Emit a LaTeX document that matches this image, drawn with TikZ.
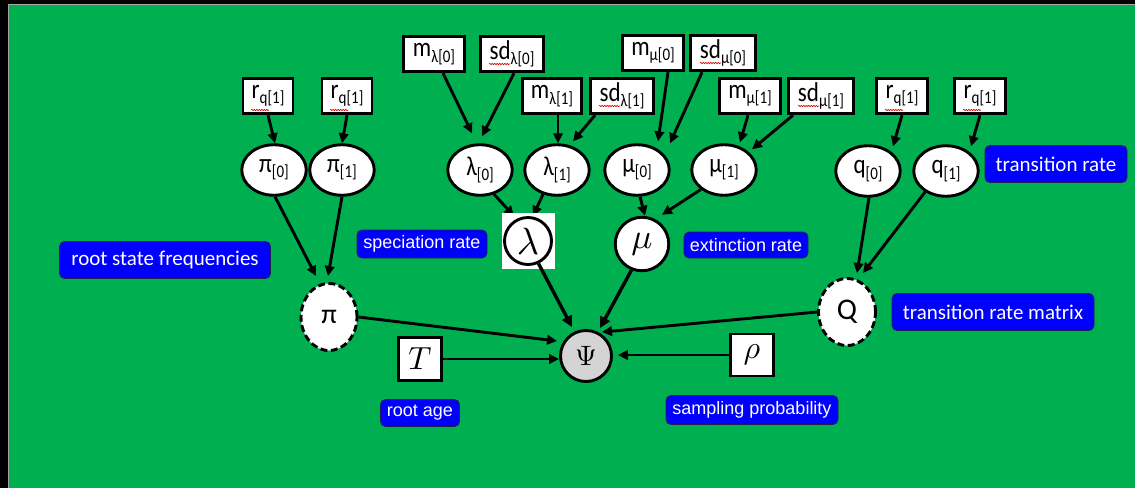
\documentclass[tikz,border=0pt]{standalone}
\usepackage{graphicx}
\usepackage{fontspec}
\usetikzlibrary{shapes.geometric,arrows.meta,decorations.pathmorphing,calc}
\newfontfamily\calf{Carlito}
\newfontfamily\arif{Liberation Sans}
\definecolor{bggreen}{RGB}{0,176,80}
\definecolor{lblblue}{RGB}{0,0,255}
\definecolor{lbledge}{RGB}{30,30,80}
\definecolor{psigray}{RGB}{212,212,212}
\newcommand{\bt}[2]{\scalebox{1}[1.18]{\calf\fontsize{23}{23}\selectfont #1\raisebox{-4.5pt}{\fontsize{15}{15}\selectfont #2}}}
\newcommand{\mth}[2]{\scalebox{#1}{$#2$}}
\pgfdeclarelayer{front}
\pgfsetlayers{main,front}
\tikzset{
 boxn/.style={rectangle, draw=black, line width=2.9pt, fill=white, inner sep=0pt, minimum height=35.5pt},
 elln/.style={ellipse, draw=black, line width=2.9pt, fill=white, inner sep=0pt, minimum width=64.5pt, minimum height=50.5pt},
 delln/.style={ellipse, draw=black, line width=2.9pt, fill=white, inner sep=0pt, dash pattern=on 7pt off 3.5pt},
 lbln/.style={rectangle, rounded corners=5pt, fill=lblblue, draw=lbledge, line width=0.8pt, text=white, inner sep=0pt},
 calfl/.style={font=\calf\fontsize{21}{21}\selectfont},
 arifl/.style={font=\arif\fontsize{18}{18}\selectfont},
 arr/.style={-{Triangle[length=10pt,width=9.5pt]}, line width=2.9pt},
 arrb/.style={-{Triangle[length=11pt,width=10.5pt]}, line width=3.4pt},
 wavy/.style={draw=red!85!black, line width=0.6pt, decorate, decoration={snake, amplitude=0.7pt, segment length=2.5pt}},
}
\begin{document}
\begin{tikzpicture}[x=1pt,y=-1pt]
\useasboundingbox (0,0) rectangle (1135,488);
\fill[black] (0,0) rectangle (1135,488);
\fill[bggreen] (8,5) rectangle (1135,488);
\draw[gray!70, line width=1pt] (8.5,488) -- (8.5,4.5) -- (1135,4.5);

% ---- top boxes
\node[boxn, minimum width=50pt] (rqa) at (268,96) {\bt{r}{q[1]}};
\node[boxn, minimum width=50pt] (rqb) at (347,96) {\bt{r}{q[1]}};
\node[boxn, minimum width=60.5pt] (mla) at (434,54) {\bt{m}{λ[0]}};
\node[boxn, minimum width=62.5pt] (sdla) at (512,54) {\bt{sd}{λ[0]}};
\node[boxn, minimum width=59.5pt] (mlb) at (552,96) {\bt{m}{λ[1]}};
\node[boxn, minimum width=62.5pt] (sdlb) at (622,96) {\bt{sd}{λ[1]}};
\node[boxn, minimum width=60.5pt] (mma) at (653,53) {\bt{m}{μ[0]}};
\node[boxn, minimum width=65.5pt] (sdma) at (723,53) {\bt{sd}{μ[0]}};
\node[boxn, minimum width=61.5pt] (mmb) at (750,96) {\bt{m}{μ[1]}};
\node[boxn, minimum width=65.5pt] (sdmb) at (821,96) {\bt{sd}{μ[1]}};
\node[boxn, minimum width=50.5pt] (rqc) at (902,96) {\bt{r}{q[1]}};
\node[boxn, minimum width=50.5pt] (rqd) at (980,96) {\bt{r}{q[1]}};

% ---- red spell-check underlines
\foreach \n in {sdla,sdlb,sdma,sdmb}
  \draw[wavy] ([xshift=-23pt,yshift=-10pt]\n.center) -- ([xshift=-2pt,yshift=-10pt]\n.center);
\foreach \n in {rqa,rqb,rqc,rqd}
  \draw[wavy] ([xshift=-17pt,yshift=-14pt]\n.center) -- ([xshift=1pt,yshift=-14pt]\n.center);

% ---- ellipses
\node[elln] (pia) at (274,170) {\bt{π}{[0]}};
\node[elln] (pib) at (342,170) {\bt{π}{[1]}};
\node[elln] (la) at (480,170) {\bt{λ}{[0]}};
\node[elln] (lb) at (557,170) {\bt{λ}{[1]}};
\node[elln] (ma) at (637,170) {\bt{μ}{[0]}};
\node[elln] (mb) at (724,170) {\bt{μ}{[1]}};
\node[elln] (qa) at (868,171) {\bt{q}{[0]}};
\node[elln] (qb) at (946,171) {\bt{q}{[1]}};

% ---- lower nodes
\begin{pgfonlayer}{front}
\node[rectangle, fill=white, minimum width=53pt, minimum height=56pt, inner sep=0pt] (lamsq) at (528,241) {};
\node[circle, draw=black, line width=2.9pt, fill=white, minimum size=47pt, inner sep=0pt] (lam) at (528,241) {\mth{3.8}{\lambda}};
\end{pgfonlayer}
\node[circle, draw=black, line width=2.9pt, fill=white, minimum size=53.5pt, inner sep=0pt] (mu) at (642,244) {\mth{3.5}{\mu}};
\node[circle, draw=black, line width=2.9pt, fill=psigray, minimum size=51pt, inner sep=0pt] (Psi) at (586,356) {\mth{2.8}{\Psi}};
\node[delln, minimum width=56pt, minimum height=67pt] (pi) at (329,317) {\calf\fontsize{28}{28}\selectfont π};
\node[delln, minimum width=57pt, minimum height=67pt] (Q) at (847,312) {\calf\fontsize{30}{30}\selectfont Q};
\node[boxn, minimum width=43pt, minimum height=43pt] (T) at (420,359) {\mth{3.2}{T}};
\node[boxn, minimum width=43pt, minimum height=42pt] (rho) at (752,355) {\mth{3.2}{\rho}};

% ---- labels
\node[lbln, calfl, minimum width=211pt, minimum height=37pt] (rsf) at (165,260) {root state frequencies};
\node[lbln, arifl, minimum width=130pt, minimum height=28pt] (spr) at (422,244) {speciation rate};
\node[lbln, arifl, minimum width=124pt, minimum height=26pt] (exr) at (746,245) {extinction rate};
\node[lbln, arifl, minimum width=79pt, minimum height=27pt] (rag) at (420,413) {root age};
\node[lbln, arifl, minimum width=172pt, minimum height=29pt] (spp) at (752,410) {sampling probability};
\node[lbln, calfl, minimum width=142pt, minimum height=37pt] (trr) at (1056,164) {transition rate};
\node[lbln, calfl, minimum width=202pt, minimum height=37pt] (trm) at (993,312) {transition rate matrix};

% ---- arrows top
\draw[arr] (rqa.south) -- ([xshift=1pt]pia.north);
\draw[arr] (rqb.south) -- (pib.north);
\draw[arr] ([xshift=9pt]mla.south) -- ([xshift=-8pt,yshift=10pt]la.north);
\draw[arr] ([xshift=2pt]sdla.south) -- ([xshift=2pt,yshift=7pt]la.north);
\draw[arr] ([xshift=6pt]mlb.south) -- ([xshift=1pt]lb.north);
\draw[arr] ([xshift=-27pt]sdlb.south) -- ([xshift=16pt,yshift=2pt]lb.north);
\draw[arr] ([xshift=15pt]mma.south) -- ([xshift=21pt,yshift=2pt]ma.north);
\draw[arr] ([xshift=-21pt]sdma.south) -- ([xshift=33pt]ma.north);
\draw[arr] ([xshift=-2pt]mmb.south) -- ([xshift=16pt,yshift=1pt]mb.north);
\draw[arr] ([xshift=-28pt]sdmb.south) -- ([xshift=28pt,yshift=-6pt]mb.north);
\draw[arr] (rqc.south) -- ([xshift=25pt,yshift=-2pt]qa.north);
\draw[arr] (rqd.south) -- ([xshift=25pt,yshift=-2pt]qb.north);

% ---- arrows middle
\draw[arr] ([xshift=1pt]pia.south) -- ([xshift=-13pt,yshift=6pt]pi.north);
\draw[arr] (pib.south) -- ([xshift=-1pt,yshift=6pt]pi.north);
\draw[arr] (la.-60) -- ([xshift=-14pt]lam.north);
\draw[arr] (lb.-120) -- ([xshift=5pt]lam.north);
\draw[arr] ([xshift=3pt]ma.south) -- ([xshift=3pt]mu.north);
\draw[arr] (mb.-140) -- ([xshift=20pt,yshift=1pt]mu.north);
\draw[arr] ([xshift=1pt]qa.south) -- ([xshift=10pt,yshift=4pt]Q.north);
\draw[arr] (qb.-135) -- ([xshift=16pt,yshift=4pt]Q.north);

% ---- arrows to Psi
\begin{pgfonlayer}{front}
\draw[arrb] (lam.-65) -- ([xshift=-14pt,yshift=2pt]Psi.north);
\end{pgfonlayer}
\draw[arrb] (mu.-112) -- ([xshift=14pt,yshift=1pt]Psi.north);
\draw[arr] (pi.east) -- ([xshift=-2pt,yshift=15pt]Psi.west);
\draw[arr] (Q.west) -- ([xshift=16pt,yshift=-3pt]Psi.north);
\draw[arr] (T.east) -- (T -| Psi.west);
\draw[arr] (rho.west) -- ($(rho -| Psi.east)+(5,0)$);
\end{tikzpicture}
\end{document}
